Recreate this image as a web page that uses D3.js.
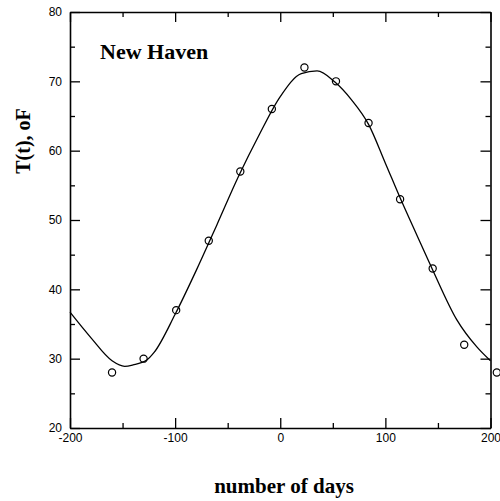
<!DOCTYPE html>
<html>
<head>
<meta charset="utf-8">
<script src="https://cdn.jsdelivr.net/npm/d3@7"></script>
<style>
html,body{margin:0;padding:0;background:#fff;}
svg{display:block;}
</style>
</head>
<body>
<svg id="chart" width="500" height="501"></svg>
<script>
// Observed monthly temperatures (days, °F)
const obsDays = [-160, -130, -99, -68, -38, -8, 23, 53, 84, 114, 145, 175, 206];
const obsTemp = [28, 30, 37, 47, 57, 66, 72, 70, 64, 53, 43, 32, 28];

// Fitted curve
const fitDays = [-200, -180, -160, -148, -140, -127, -120, -100, -80, -60, -40, -20, 0, 20, 35, 52, 68, 84, 100, 114, 130, 145, 168, 187, 200];
const fitTemp = [36.7, 33.0, 29.7, 28.9, 29.1, 29.8, 30.9, 36.4, 42.7, 49.4, 56.2, 62.3, 67.8, 71.1, 71.5, 69.9, 67.3, 63.8, 58.2, 53.2, 47.8, 42.8, 35.6, 31.7, 29.7];

const xMajor = [-200, -100, 0, 100, 200];
const xMajorLabels = ["-200", "-100", "0", "100", "200"];
const xMinor = [-150, -50, 50, 150];
const yMajor = [20, 30, 40, 50, 60, 70, 80];
const yMajorLabels = ["20", "30", "40", "50", "60", "70", "80"];
const yMinor = [25, 35, 45, 55, 65, 75];

const titleText = "New Haven";
const xTitle = "number of days";
const yTitle = "T(t), oF";

const svg = d3.select("#chart");
const L = 70, R = 490.5, T = 12, B = 428;
const x = d3.scaleLinear().domain([-200, 200]).range([L, R]);
const y = d3.scaleLinear().domain([20, 80]).range([B, T]);

const tickFont = "'Liberation Sans', Arial, sans-serif";
const serif = "'Liberation Serif', 'Times New Roman', serif";

function style(g) {
  g.selectAll("path.domain").attr("stroke", "#000").attr("stroke-width", 1.6);
  g.selectAll(".tick line").attr("stroke", "#000").attr("stroke-width", 1.3);
  g.selectAll(".tick text").attr("fill", "#000").style("font-family", tickFont).style("font-size", "12px");
}

// Bottom axis
svg.append("g").attr("transform", `translate(0,${B})`)
  .call(d3.axisBottom(x).tickValues(xMajor).tickFormat((d, i) => xMajorLabels[i]).tickSizeInner(-10).tickSizeOuter(0).tickPadding(5))
  .call(style);
svg.append("g").attr("transform", `translate(0,${B})`)
  .call(d3.axisBottom(x).tickValues(xMinor).tickFormat("").tickSizeInner(-5).tickSizeOuter(0))
  .call(style).call(g => g.select(".domain").remove());
// Top axis
svg.append("g").attr("transform", `translate(0,${T})`)
  .call(d3.axisTop(x).tickValues(xMajor).tickFormat("").tickSizeInner(-10).tickSizeOuter(0))
  .call(style);
svg.append("g").attr("transform", `translate(0,${T})`)
  .call(d3.axisTop(x).tickValues(xMinor).tickFormat("").tickSizeInner(-5).tickSizeOuter(0))
  .call(style).call(g => g.select(".domain").remove());
// Left axis
svg.append("g").attr("transform", `translate(${L},0)`)
  .call(d3.axisLeft(y).tickValues(yMajor).tickFormat((d, i) => yMajorLabels[i]).tickSizeInner(-10).tickSizeOuter(0).tickPadding(8))
  .call(style);
svg.append("g").attr("transform", `translate(${L},0)`)
  .call(d3.axisLeft(y).tickValues(yMinor).tickFormat("").tickSizeInner(-5).tickSizeOuter(0))
  .call(style).call(g => g.select(".domain").remove());
// Right axis
svg.append("g").attr("transform", `translate(${R},0)`)
  .call(d3.axisRight(y).tickValues(yMajor).tickFormat("").tickSizeInner(-10).tickSizeOuter(0))
  .call(style);
svg.append("g").attr("transform", `translate(${R},0)`)
  .call(d3.axisRight(y).tickValues(yMinor).tickFormat("").tickSizeInner(-5).tickSizeOuter(0))
  .call(style).call(g => g.select(".domain").remove());

// Fitted curve
const fit = fitDays.map((d, i) => [d, fitTemp[i]]);
svg.append("path")
  .datum(fit)
  .attr("fill", "none")
  .attr("stroke", "#000")
  .attr("stroke-width", 1.3)
  .attr("d", d3.line().x(d => x(d[0])).y(d => y(d[1])).curve(d3.curveMonotoneX));

// Observations
svg.append("g").selectAll("circle")
  .data(obsDays.map((d, i) => [d, obsTemp[i]]))
  .join("circle")
  .attr("cx", d => x(d[0]))
  .attr("cy", d => y(d[1]))
  .attr("r", 3.6)
  .attr("fill", "none")
  .attr("stroke", "#000")
  .attr("stroke-width", 1.2);

// Texts
svg.append("text")
  .attr("x", 100).attr("y", 59)
  .style("font-family", serif).style("font-weight", "bold").style("font-size", "22px")
  .text(titleText);

svg.append("text")
  .attr("x", 284).attr("y", 493)
  .attr("text-anchor", "middle")
  .style("font-family", serif).style("font-weight", "bold").style("font-size", "21px")
  .text(xTitle);

svg.append("text")
  .attr("transform", "translate(30,141) rotate(-90)")
  .attr("text-anchor", "middle")
  .style("font-family", serif).style("font-weight", "bold").style("font-size", "20px")
  .text(yTitle);
</script>
</body>
</html>
